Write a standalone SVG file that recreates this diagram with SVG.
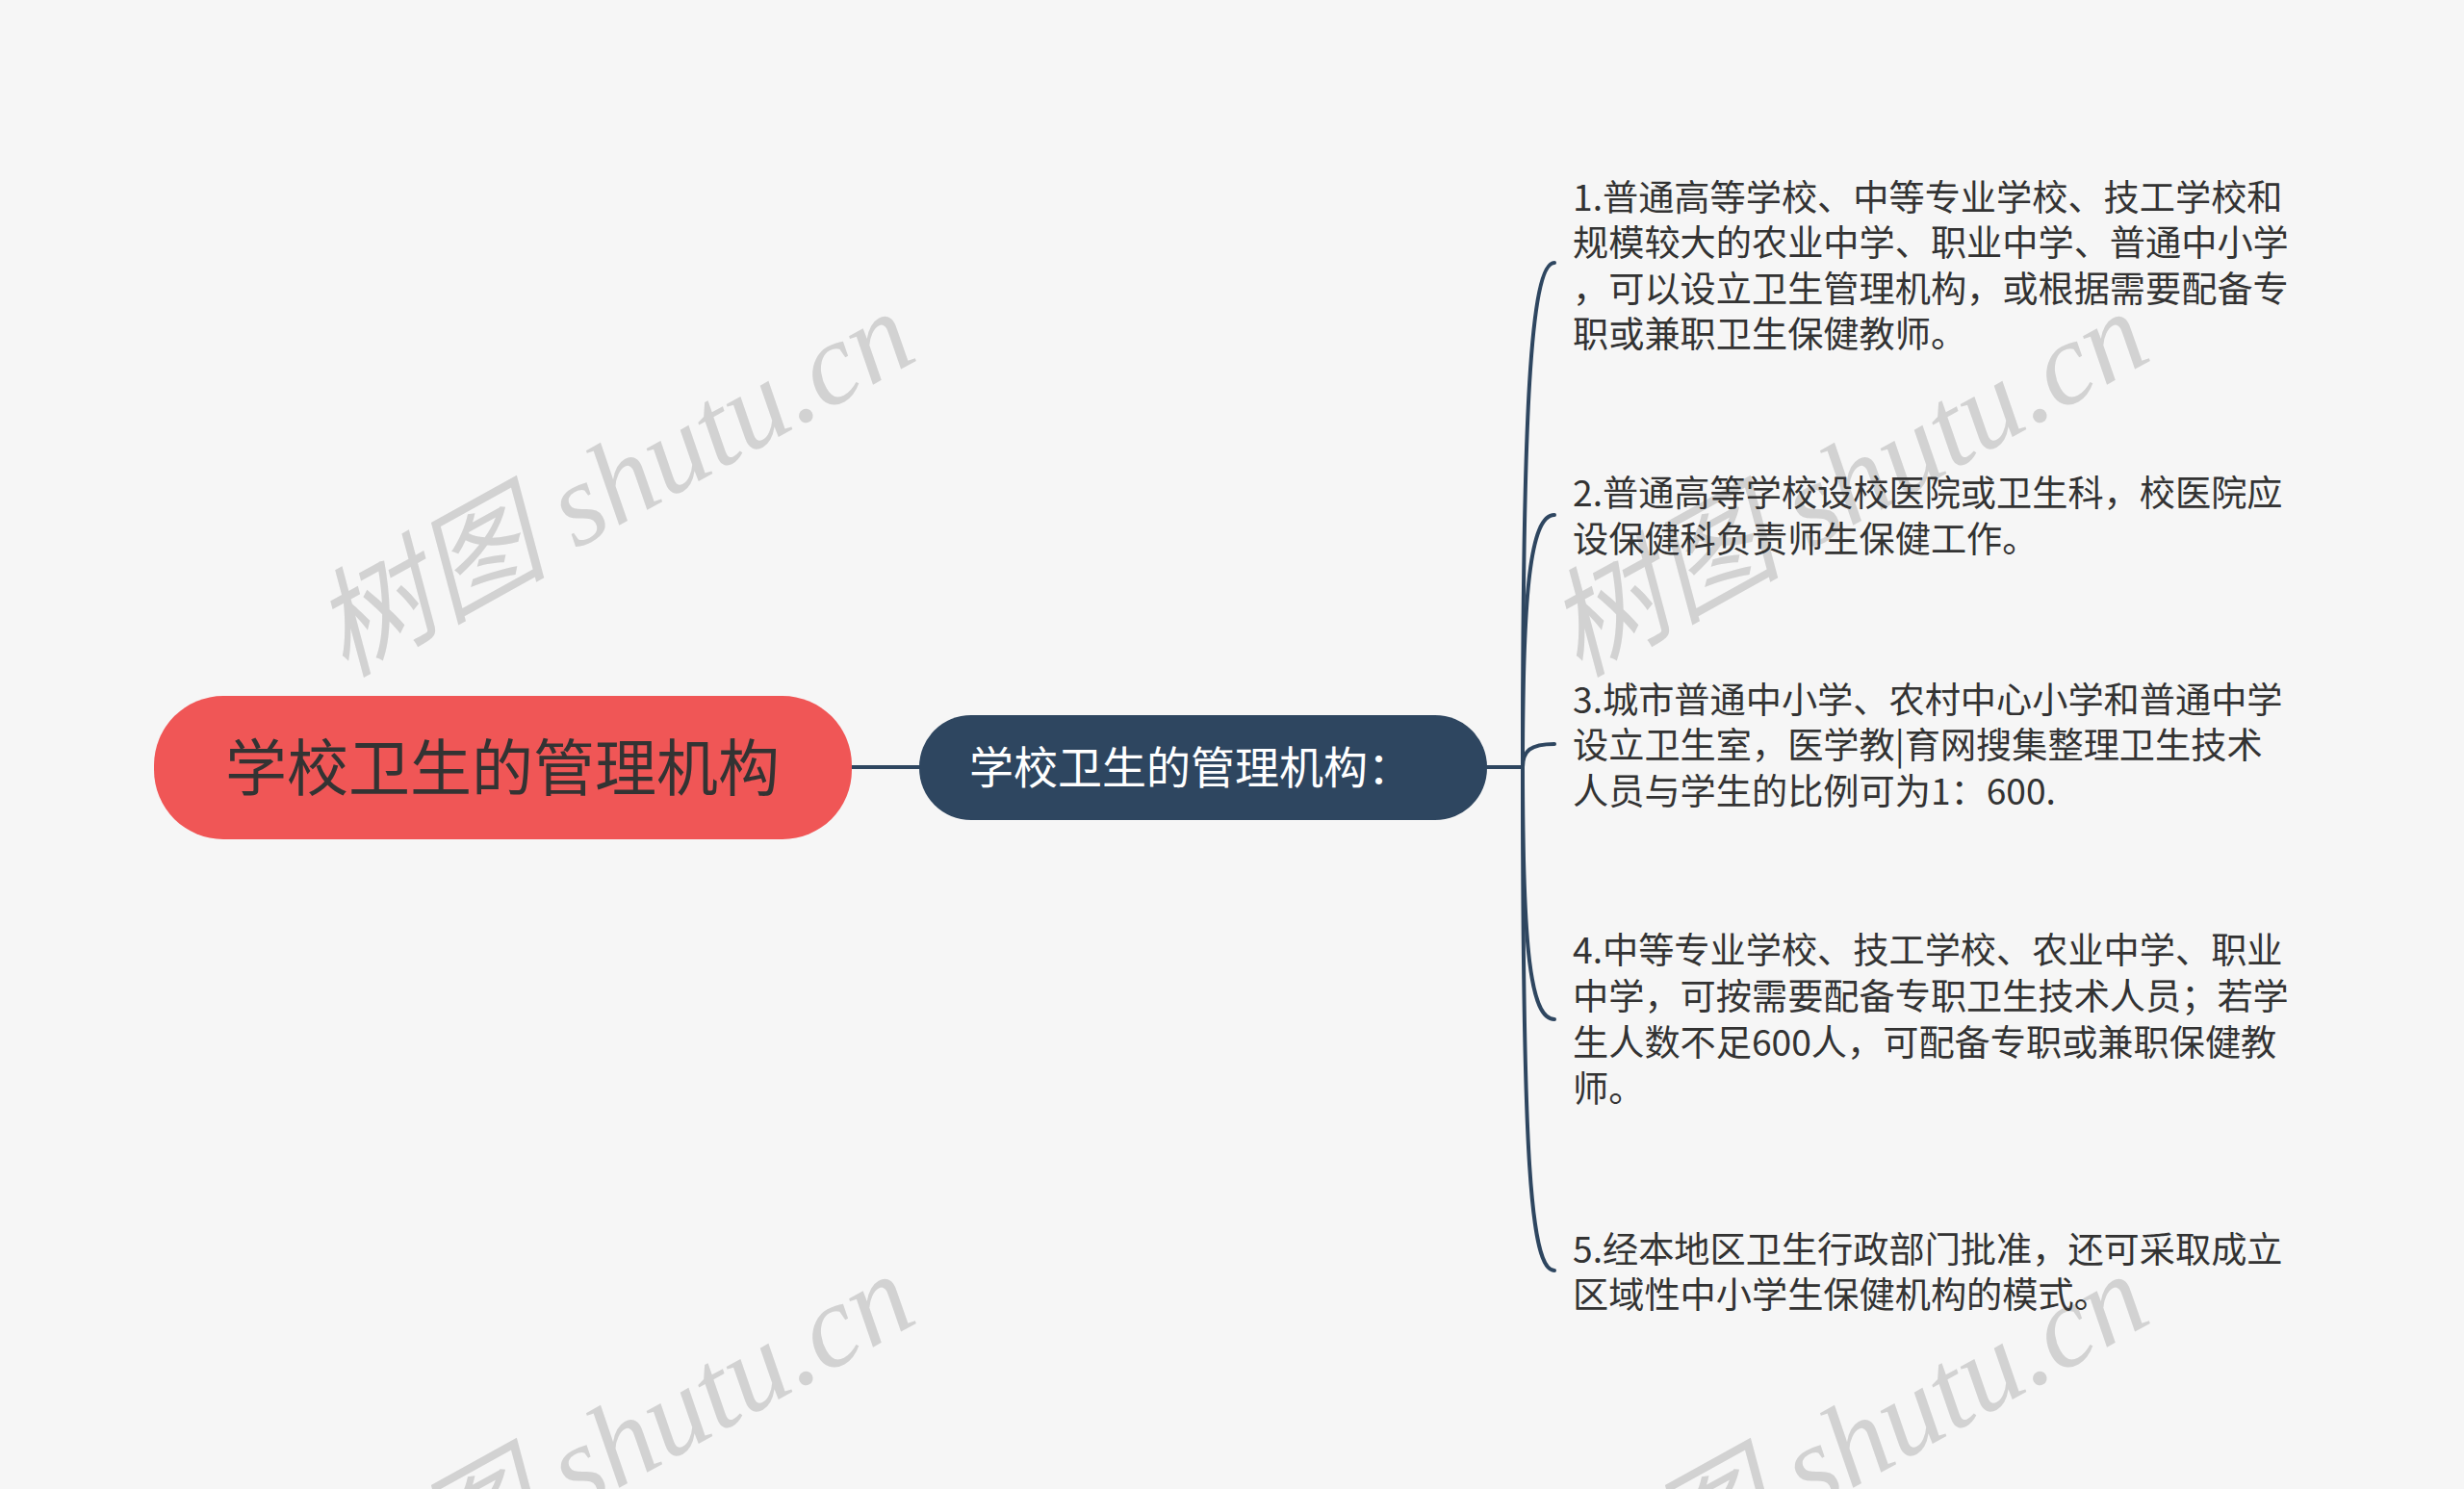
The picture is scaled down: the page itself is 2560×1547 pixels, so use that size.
<svg xmlns="http://www.w3.org/2000/svg" width="2560" height="1547" viewBox="0 0 2560 1547">
<style>
.wm{font-family:"Liberation Serif","Noto Sans CJK SC",serif;font-style:italic;font-size:122px;fill:#d2d2d2}
.it{font-family:"Noto Sans CJK SC","Noto Sans",sans-serif;font-size:37.2px;fill:#333333}
.c{fill:none;stroke:#2e4660;stroke-width:4;stroke-linecap:round}
</style>
<rect width="2560" height="1547" fill="#f6f6f6"/>
<g id="watermarks">
<text class="wm" transform="translate(358,704) rotate(-29)">树图 shutu.cn</text>
<text class="wm" transform="translate(1640,704) rotate(-29)">树图 shutu.cn</text>
<text class="wm" transform="translate(358,1704) rotate(-29)">树图 shutu.cn</text>
<text class="wm" transform="translate(1640,1704) rotate(-29)">树图 shutu.cn</text>
</g>
<g id="connectors">
<path class="c" d="M885 797 L955 797"/>
<path class="c" d="M1545 797 L1582 797"/>
<path class="c" d="M1582 797 C1582 430 1590 273 1615 273"/>
<path class="c" d="M1582 797 C1582 614 1590 535 1615 535"/>
<path class="c" d="M1582 797 C1582 780 1590 773 1615 773"/>
<path class="c" d="M1582 797 C1582 986 1590 1059 1615 1059"/>
<path class="c" d="M1582 797 C1582 1204 1590 1320 1615 1320"/>
</g>
<g id="root">
<rect x="160" y="723" width="725" height="149" rx="72" ry="72" fill="#f05656"/>
<text x="522" y="821" text-anchor="middle" font-family="Noto Sans CJK SC, sans-serif" font-size="64" fill="#333333">学校卫生的管理机构</text>
</g>
<g id="node-main">
<rect x="955" y="743" width="590" height="109" rx="54" ry="54" fill="#2e4660"/>
<text x="1007" y="814" font-family="Noto Sans CJK SC, sans-serif" font-size="46" fill="#ffffff">学校卫生的管理机构：</text>
</g>
<g id="item1">
<text class="it" x="1634" y="219">1.普通高等学校、中等专业学校、技工学校和</text>
<text class="it" x="1634" y="266">规模较大的农业中学、职业中学、普通中小学</text>
<text class="it" x="1634" y="314">，可以设立卫生管理机构，或根据需要配备专</text>
<text class="it" x="1634" y="361">职或兼职卫生保健教师。</text>
</g>
<g id="item2">
<text class="it" x="1634" y="526">2.普通高等学校设校医院或卫生科，校医院应</text>
<text class="it" x="1634" y="574">设保健科负责师生保健工作。</text>
</g>
<g id="item3">
<text class="it" x="1634" y="741">3.城市普通中小学、农村中心小学和普通中学</text>
<text class="it" x="1634" y="788">设立卫生室，医学教|育网搜集整理卫生技术</text>
<text class="it" x="1634" y="836">人员与学生的比例可为1：600.</text>
</g>
<g id="item4">
<text class="it" x="1634" y="1001">4.中等专业学校、技工学校、农业中学、职业</text>
<text class="it" x="1634" y="1049">中学，可按需要配备专职卫生技术人员；若学</text>
<text class="it" x="1634" y="1097">生人数不足600人，可配备专职或兼职保健教</text>
<text class="it" x="1634" y="1145">师。</text>
</g>
<g id="item5">
<text class="it" x="1634" y="1312">5.经本地区卫生行政部门批准，还可采取成立</text>
<text class="it" x="1634" y="1359">区域性中小学生保健机构的模式。</text>
</g>
</svg>
